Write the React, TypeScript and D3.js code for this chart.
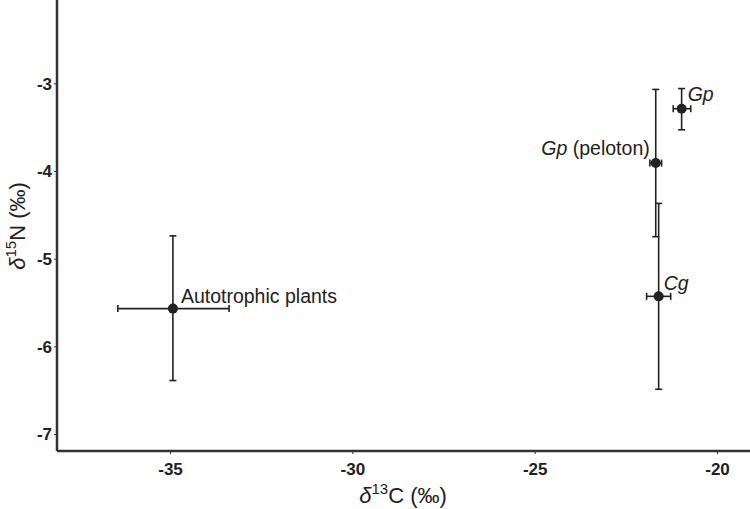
import React, { useEffect, useRef } from "react";
import * as d3 from "d3";

// group means with SD error bars
const groups = ["Autotrophic plants", "Gp", "Gp (peloton)", "Cg"];
const carbonMean = [-34.92, -20.97, -21.68, -21.6];
const carbonLow = [-36.43, -21.2, -21.84, -21.93];
const carbonHigh = [-33.38, -20.72, -21.52, -21.27];
const nitrogenMean = [-5.57, -3.29, -3.91, -5.43];
const nitrogenLow = [-6.39, -3.53, -4.75, -6.49];
const nitrogenHigh = [-4.74, -3.06, -3.07, -4.37];

const xTicks = [-35, -30, -25, -20];
const yTicks = [-3, -4, -5, -6, -7];

const App = () => {
  const svgRef = useRef<SVGSVGElement>(null);

  useEffect(() => {
    const W = 750;
    const H = 509;
    const left = 57;
    const bottom = 451;

    const svg = d3.select(svgRef.current);
    svg.selectAll("*").remove();
    svg.attr("width", W).attr("height", H);

    const x = d3.scaleLinear().domain([-35, -20]).range([170, 717]);
    const y = d3.scaleLinear().domain([-3, -7]).range([83.3, 434]);

    const ink = "#222";
    const font = "Liberation Sans, Arial, sans-serif";
    const fmt = (d: any) => String(d); // plain hyphen, as in the original

    // axes
    const xAxis = svg
      .append("g")
      .attr("transform", `translate(0, ${bottom})`)
      .call(d3.axisBottom(x).tickValues(xTicks).tickSize(3).tickPadding(5).tickSizeOuter(0).tickFormat(fmt));
    xAxis.select(".domain").attr("d", `M${left},0H${W}`).attr("stroke", "#333").attr("stroke-width", 2.5);

    const yAxis = svg
      .append("g")
      .attr("transform", `translate(${left}, 0)`)
      .call(d3.axisLeft(y).tickValues(yTicks).tickSize(3).tickPadding(2).tickSizeOuter(0).tickFormat(fmt));
    yAxis.select(".domain").attr("d", `M0,0V${bottom}`).attr("stroke", "#333").attr("stroke-width", 2.5);

    [xAxis, yAxis].forEach((a) => {
      a.selectAll(".tick line").attr("stroke", "#333").attr("stroke-width", 1);
      a.selectAll(".tick text")
        .attr("fill", ink)
        .style("font-family", font)
        .style("font-size", "17px")
        .style("font-weight", "bold");
    });
    xAxis.selectAll(".tick text").attr("dy", "0.95em");
    yAxis.selectAll(".tick text").attr("dy", "0.35em");

    const data = groups.map((g, i) => ({
      g,
      cx: carbonMean[i],
      cl: carbonLow[i],
      ch: carbonHigh[i],
      nx: nitrogenMean[i],
      nl: nitrogenLow[i],
      nh: nitrogenHigh[i],
    }));

    const cap = 3.5;
    const bars = svg.append("g").attr("stroke", ink).attr("stroke-width", 1.6).attr("fill", "none");
    data.forEach((d) => {
      const px = x(d.cx);
      const py = y(d.nx);
      // vertical bar
      bars.append("line").attr("x1", px).attr("x2", px).attr("y1", y(d.nl)).attr("y2", y(d.nh));
      bars.append("line").attr("x1", px - cap).attr("x2", px + cap).attr("y1", y(d.nl)).attr("y2", y(d.nl));
      bars.append("line").attr("x1", px - cap).attr("x2", px + cap).attr("y1", y(d.nh)).attr("y2", y(d.nh));
      // horizontal bar
      bars.append("line").attr("x1", x(d.cl)).attr("x2", x(d.ch)).attr("y1", py).attr("y2", py);
      bars.append("line").attr("x1", x(d.cl)).attr("x2", x(d.cl)).attr("y1", py - cap).attr("y2", py + cap);
      bars.append("line").attr("x1", x(d.ch)).attr("x2", x(d.ch)).attr("y1", py - cap).attr("y2", py + cap);
    });

    svg
      .append("g")
      .selectAll("circle")
      .data(data)
      .enter()
      .append("circle")
      .attr("cx", (d) => x(d.cx))
      .attr("cy", (d) => y(d.nx))
      .attr("r", 5)
      .attr("fill", ink);

    // point labels
    const lab = svg.append("g").style("font-family", font).style("font-size", "19.5px").attr("fill", ink);
    const put = (i: number, dx: number, dy: number, anchor: string) =>
      lab
        .append("text")
        .attr("x", x(carbonMean[i]) + dx)
        .attr("y", y(nitrogenMean[i]) + dy)
        .attr("text-anchor", anchor);

    put(0, 8, -6, "start").text("Autotrophic plants");
    put(1, 6, -8, "start").append("tspan").attr("font-style", "italic").text("Gp");
    const pel = put(2, -6, -8, "end");
    pel.append("tspan").attr("font-style", "italic").text("Gp");
    pel.append("tspan").text(" (peloton)");
    put(3, 5, -6, "start").append("tspan").attr("font-style", "italic").text("Cg");

    // axis titles
    const xt = svg
      .append("text")
      .attr("x", 403)
      .attr("y", 503)
      .attr("text-anchor", "middle")
      .style("font-family", font)
      .style("font-size", "22px")
      .attr("fill", ink);
    xt.append("tspan").attr("font-style", "italic").text("δ");
    xt.append("tspan").attr("dy", -9).style("font-size", "15px").text("13");
    xt.append("tspan").attr("dy", 9).text("C (‰)");

    const yt = svg
      .append("text")
      .attr("transform", `translate(25, 226) rotate(-90)`)
      .attr("text-anchor", "middle")
      .style("font-family", font)
      .style("font-size", "22px")
      .attr("fill", ink);
    yt.append("tspan").attr("font-style", "italic").text("δ");
    yt.append("tspan").attr("dy", -9).style("font-size", "15px").text("15");
    yt.append("tspan").attr("dy", 9).text("N (‰)");
  }, []);

  return <svg ref={svgRef} style={{ position: "absolute", left: 0, top: 0, background: "#fff" }}></svg>;
};

export default App;
